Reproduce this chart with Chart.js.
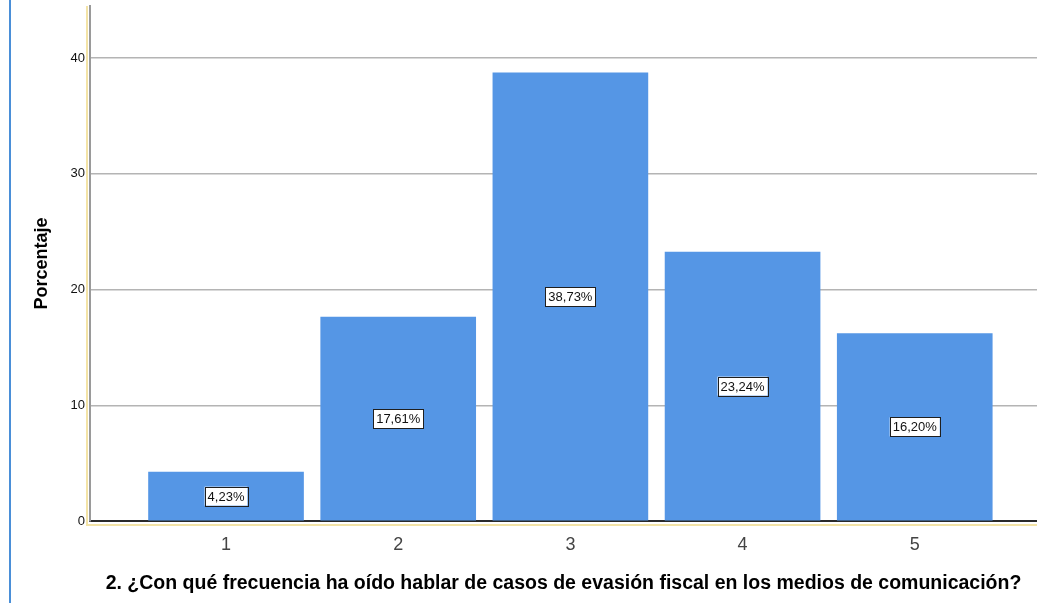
<!DOCTYPE html>
<html>
<head>
<meta charset="utf-8">
<script src="https://cdn.jsdelivr.net/npm/chart.js@4/dist/chart.umd.min.js"></script>
<style>
  html, body { margin: 0; padding: 0; background: #fff; }
  #wrap { width: 1037px; height: 603px; position: relative; }
</style>
</head>
<body>
<div id="wrap"><canvas id="chart"></canvas></div>
<script>
// ─── Data ──────────────────────────────────────────────
const categories = [1, 2, 3, 4, 5];
const percentages = [4.23, 17.61, 38.73, 23.24, 16.20];
const yTicks = [0, 10, 20, 30, 40];
const yTitle = 'Porcentaje';
const xTitle = '2. ¿Con qué frecuencia ha oído hablar de casos de evasión fiscal en los medios de comunicación?';

const FONT = "'Liberation Sans', Arial, sans-serif";

// blue page edge + pale yellow frame, like the SPSS output
const framePlugin = {
  id: 'frame',
  beforeDraw(chart) {
    const { ctx, chartArea } = chart;
    ctx.save();
    ctx.strokeStyle = '#4a8fd8';
    ctx.lineWidth = 2;
    ctx.beginPath();
    ctx.moveTo(10, 0);
    ctx.lineTo(10, chart.height);
    ctx.stroke();

    ctx.strokeStyle = '#f3e3a6';
    ctx.lineWidth = 2;
    ctx.beginPath();
    ctx.moveTo(chartArea.left - 3, chartArea.top);
    ctx.lineTo(chartArea.left - 3, chartArea.bottom + 4);
    ctx.lineTo(chart.width, chartArea.bottom + 4);
    ctx.stroke();
    ctx.restore();
  }
};

// boxed percentage labels in the middle of every bar
const boxLabels = {
  id: 'boxLabels',
  afterDatasetsDraw(chart) {
    const { ctx } = chart;
    const meta = chart.getDatasetMeta(0);
    ctx.save();
    ctx.font = '13px ' + FONT;
    ctx.textAlign = 'center';
    ctx.textBaseline = 'middle';
    meta.data.forEach((bar, i) => {
      const txt = percentages[i].toFixed(2).replace('.', ',') + '%';
      const cx = bar.x;
      const cy = (bar.y + bar.base) / 2;
      const w = ctx.measureText(txt).width + 6;
      const h = 19;
      ctx.fillStyle = '#ffffff';
      ctx.fillRect(cx - w / 2, cy - h / 2, w, h);
      ctx.strokeStyle = '#1f1f1f';
      ctx.lineWidth = 1;
      ctx.strokeRect(Math.round(cx - w / 2) + 0.5, Math.round(cy - h / 2) + 0.5, Math.round(w), h);
      ctx.fillStyle = '#111';
      ctx.fillText(txt, cx, cy + 1);
    });
    ctx.restore();
  }
};

new Chart(document.getElementById('chart'), {
  type: 'bar',
  data: {
    datasets: [{
      data: categories.map((c, i) => ({ x: c, y: percentages[i] })),
      backgroundColor: '#5596e5',
      borderWidth: 0,
      barThickness: 155,
    }],
  },
  options: {
    responsive: true,
    maintainAspectRatio: false,
    animation: false,
    layout: { padding: { left: 0, right: 0, top: 6, bottom: 0 } },
    plugins: {
      legend: { display: false },
      tooltip: { enabled: false },
    },
    scales: {
      x: {
        type: 'linear',
        offset: false,
        min: 0.21,
        max: 5.71,
        afterBuildTicks: (scale) => { scale.ticks = categories.map(v => ({ value: v })); },
        afterFit: (scale) => { scale.height = 82; },
        grid: { display: false, drawTicks: false, offset: false },
        border: { color: '#2a2a2a', width: 2 },
        ticks: {
          color: '#444',
          padding: 13,
          font: { family: FONT, size: 18 },
          callback: (v) => String(v),
        },
        title: {
          display: true,
          text: xTitle,
          color: '#000',
          padding: { top: 0, bottom: 8 },
          font: { family: FONT, size: 19.5, weight: 'bold' },
        },
      },
      y: {
        min: 0,
        max: 44.5,
        afterBuildTicks: (scale) => { scale.ticks = yTicks.map(v => ({ value: v })); },
        afterFit: (scale) => { scale.width = 90; scale.paddingTop = 0; },
        grid: { color: '#b4b4b4', lineWidth: 1.5, drawTicks: false },
        border: { color: '#9a9a9a', width: 2 },
        ticks: {
          color: '#111',
          padding: 5,
          font: { family: FONT, size: 13 },
        },
        title: {
          display: true,
          text: yTitle,
          color: '#000',
          padding: { top: 31, bottom: 0 },
          font: { family: FONT, size: 18, weight: 'bold' },
        },
      },
    },
  },
  plugins: [framePlugin, boxLabels],
});
</script>
</body>
</html>
